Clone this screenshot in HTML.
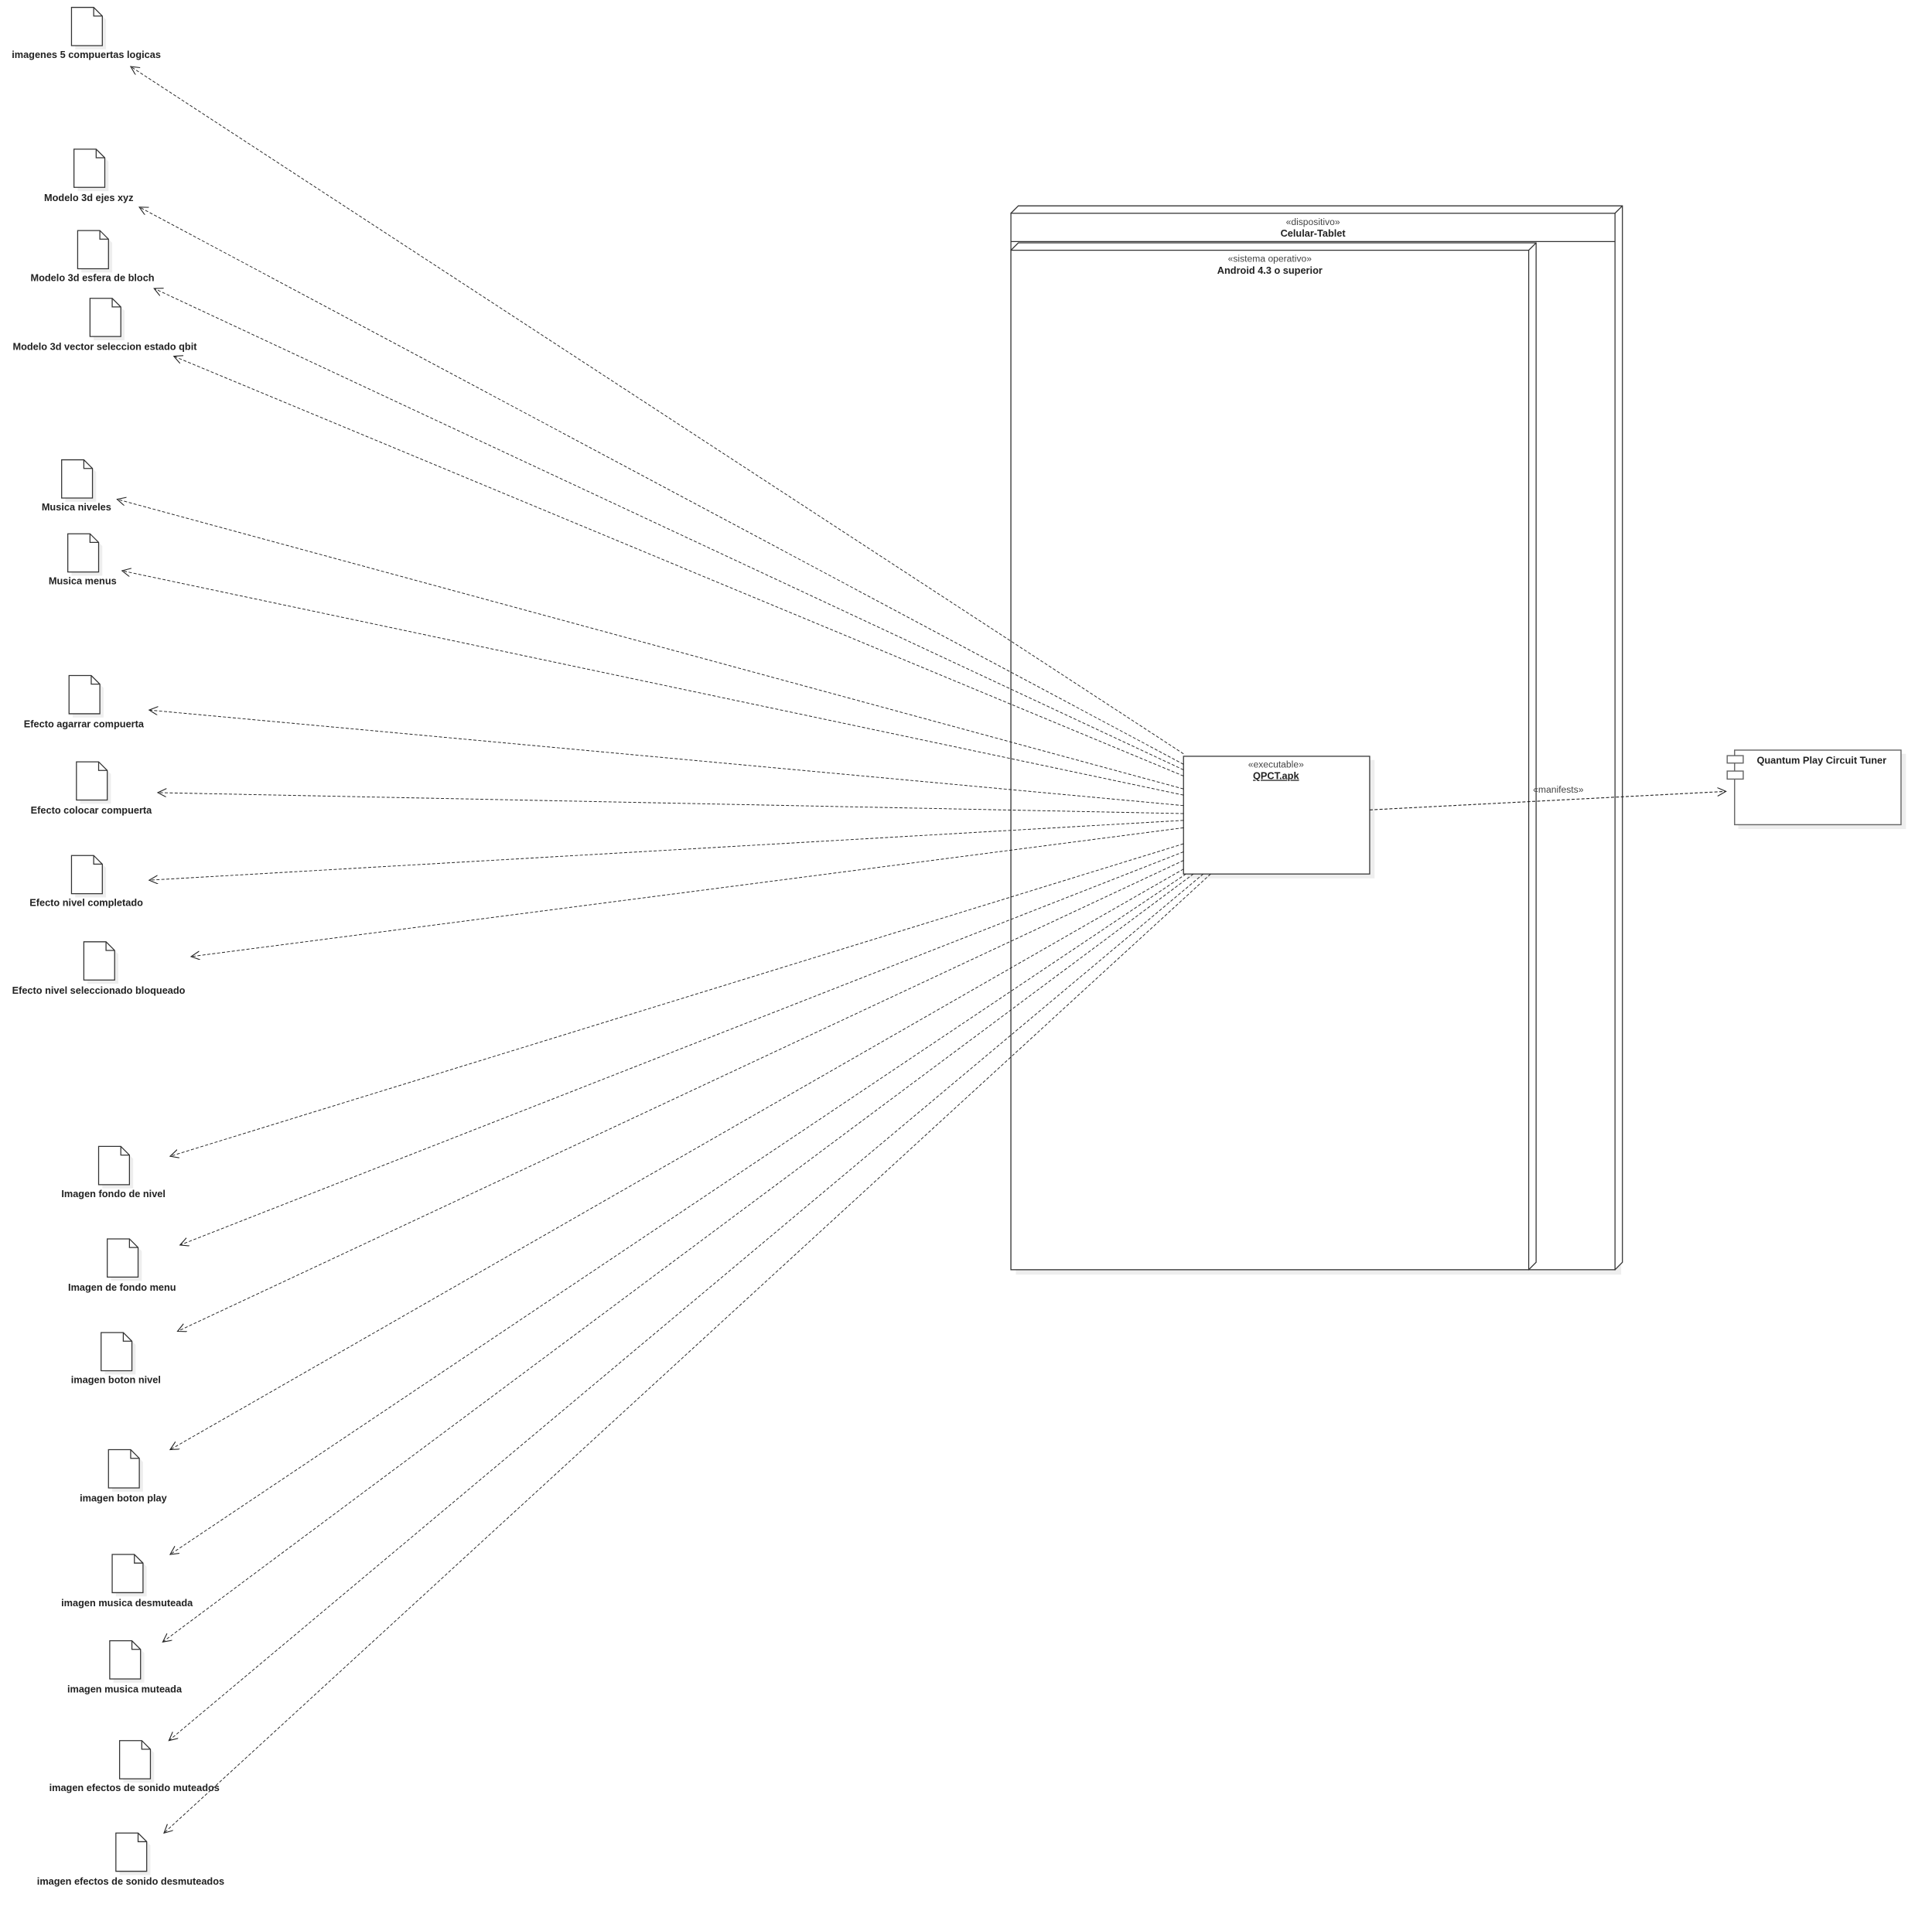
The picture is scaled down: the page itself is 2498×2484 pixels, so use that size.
<!DOCTYPE html>
<html><head><meta charset="utf-8"><style>
html,body{margin:0;padding:0;background:#fff;}
svg{display:block;}
text{font-family:"Liberation Sans",sans-serif;fill:#222;}
.b{font-weight:bold;font-size:8px;}
.s{font-size:7.6px;fill:#444;}
</style></head><body>
<svg width="2498" height="2484" viewBox="0 0 2498 2484" xmlns="http://www.w3.org/2000/svg">
<defs>
<marker id="a" markerWidth="10" markerHeight="10" refX="7" refY="3.5" orient="auto" markerUnits="userSpaceOnUse">
<path d="M0,0 L7,3.5 L0,7" fill="none" stroke="#222" stroke-width="0.7"/>
</marker>
<g id="doc">
<path d="M3,3 h18 l7,7 v24 h-25 z" fill="#eee"/>
<path d="M0,0 h18 l7,7 v24 h-25 z" fill="#fff" stroke="#333" stroke-width="0.8"/>
<path d="M18,0 v7 h7" fill="none" stroke="#333" stroke-width="0.8"/>
</g>
</defs>
<g transform="scale(1.594)">
<rect x="824" y="177" width="491" height="857" fill="#eee"/>
<path d="M820,173 L826,167 L1316,167 L1316,1024 L1310,1030 Z" fill="#fff" stroke="#333" stroke-width="0.8"/>
<rect x="820" y="173" width="490" height="857" fill="#fff" stroke="#333" stroke-width="0.8"/>
<path d="M1310,173 L1316,167" stroke="#333" stroke-width="0.8"/>
<line x1="820" y1="196" x2="1310" y2="196" stroke="#333" stroke-width="0.8"/>
<text x="1065" y="182.5" text-anchor="middle" class="s">«dispositivo»</text>
<text x="1065" y="192" text-anchor="middle" class="b">Celular-Tablet</text>
<path d="M820,203 L826,197 L1246,197 L1246,1024 L1240,1030 Z" fill="#fff" stroke="#333" stroke-width="0.8"/>
<rect x="820" y="203" width="420" height="827" fill="#fff" stroke="#333" stroke-width="0.8"/>
<path d="M1240,203 L1246,197" stroke="#333" stroke-width="0.8"/>
<text x="1030" y="212.5" text-anchor="middle" class="s">«sistema operativo»</text>
<text x="1030" y="222" text-anchor="middle" class="b">Android 4.3 o superior</text>
<rect x="963" y="616.5" width="152" height="96" fill="#eee"/>
<rect x="960" y="613.5" width="151" height="95.5" fill="#fff" stroke="#333" stroke-width="0.8"/>
<text x="1035" y="622.5" text-anchor="middle" class="s">«executable»</text>
<text x="1035" y="632" text-anchor="middle" class="b" text-decoration="underline">QPCT.apk</text>
<rect x="1410" y="611.5" width="136" height="61" fill="#eee"/>
<rect x="1407" y="608.5" width="135" height="60.5" fill="#fff" stroke="#666" stroke-width="0.9"/>
<rect x="1401" y="613" width="13" height="6" fill="#fff" stroke="#666" stroke-width="0.9"/>
<rect x="1401" y="625.5" width="13" height="6.5" fill="#fff" stroke="#666" stroke-width="0.9"/>
<text x="1425" y="619.5" class="b">Quantum Play Circuit Tuner</text>
<line x1="1111" y1="657" x2="1400" y2="642" stroke="#222" stroke-width="0.7" stroke-dasharray="2.5,1.5" marker-end="url(#a)"/>
<text x="1264" y="643" text-anchor="middle" class="s">«manifests»</text>
<g stroke="#222" stroke-width="0.6" stroke-dasharray="2.5,1.5" fill="none" marker-end="url(#a)">
<line x1="960" y1="611.5" x2="106" y2="54"/>
<line x1="960" y1="620" x2="113" y2="168"/>
<line x1="960" y1="624.5" x2="125" y2="234"/>
<line x1="960" y1="629.5" x2="141" y2="289"/>
<line x1="960" y1="640" x2="95" y2="405"/>
<line x1="960" y1="645" x2="99" y2="463"/>
<line x1="960" y1="653.5" x2="121" y2="576"/>
<line x1="960" y1="660" x2="128" y2="643"/>
<line x1="960" y1="665.5" x2="121" y2="714"/>
<line x1="960" y1="671.5" x2="155" y2="776"/>
<line x1="960" y1="684.5" x2="138" y2="938"/>
<line x1="960" y1="691" x2="146" y2="1010"/>
<line x1="960" y1="698" x2="144" y2="1080"/>
<line x1="960" y1="705" x2="138" y2="1176"/>
<line x1="962" y1="709" x2="138" y2="1261"/>
<line x1="968" y1="709" x2="132" y2="1332"/>
<line x1="976" y1="709" x2="137" y2="1412"/>
<line x1="982" y1="709" x2="133" y2="1487"/>
</g>
<use href="#doc" x="58" y="6"/><text x="70" y="47" text-anchor="middle" class="b">imagenes 5 compuertas logicas</text>
<use href="#doc" x="60" y="121"/><text x="72" y="163" text-anchor="middle" class="b">Modelo 3d ejes xyz</text>
<use href="#doc" x="63" y="187"/><text x="75" y="228" text-anchor="middle" class="b">Modelo 3d esfera de bloch</text>
<use href="#doc" x="73" y="242"/><text x="85" y="284" text-anchor="middle" class="b">Modelo 3d vector seleccion estado qbit</text>
<use href="#doc" x="50" y="373"/><text x="62" y="414" text-anchor="middle" class="b">Musica niveles</text>
<use href="#doc" x="55" y="433"/><text x="67" y="474" text-anchor="middle" class="b">Musica menus</text>
<use href="#doc" x="56" y="548"/><text x="68" y="590" text-anchor="middle" class="b">Efecto agarrar compuerta</text>
<use href="#doc" x="62" y="618"/><text x="74" y="660" text-anchor="middle" class="b">Efecto colocar compuerta</text>
<use href="#doc" x="58" y="694"/><text x="70" y="735" text-anchor="middle" class="b">Efecto nivel completado</text>
<use href="#doc" x="68" y="764"/><text x="80" y="806" text-anchor="middle" class="b">Efecto nivel seleccionado bloqueado</text>
<use href="#doc" x="80" y="930"/><text x="92" y="971" text-anchor="middle" class="b">Imagen fondo de nivel</text>
<use href="#doc" x="87" y="1005"/><text x="99" y="1047" text-anchor="middle" class="b">Imagen de fondo menu</text>
<use href="#doc" x="82" y="1081"/><text x="94" y="1122" text-anchor="middle" class="b">imagen boton nivel</text>
<use href="#doc" x="88" y="1176"/><text x="100" y="1218" text-anchor="middle" class="b">imagen boton play</text>
<use href="#doc" x="91" y="1261"/><text x="103" y="1303" text-anchor="middle" class="b">imagen musica desmuteada</text>
<use href="#doc" x="89" y="1331"/><text x="101" y="1373" text-anchor="middle" class="b">imagen musica muteada</text>
<use href="#doc" x="97" y="1412"/><text x="109" y="1453" text-anchor="middle" class="b">imagen efectos de sonido muteados</text>
<use href="#doc" x="94" y="1487"/><text x="106" y="1529" text-anchor="middle" class="b">imagen efectos de sonido desmuteados</text>
</g>
</svg>
</body></html>
